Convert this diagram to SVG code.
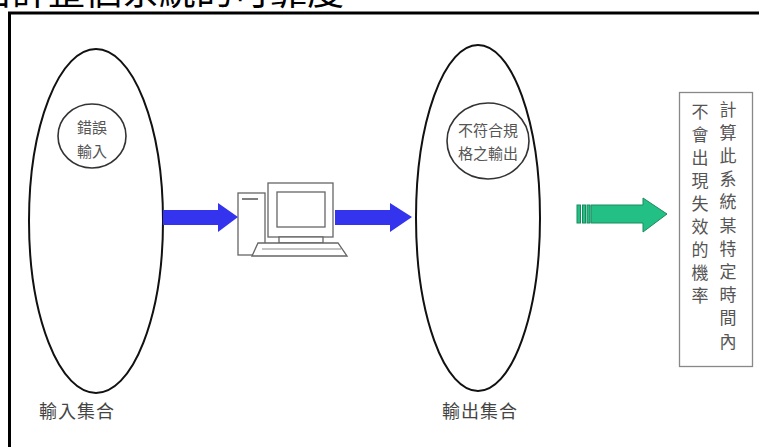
<svg xmlns="http://www.w3.org/2000/svg" width="759" height="447" viewBox="0 0 759 447">
  <style>
    .title { font-family: "Noto Sans CJK TC", "Noto Sans CJK SC", sans-serif; font-size: 37px; fill: #000; }
    .set { fill: none; stroke: #111; stroke-width: 2; }
    .sub { fill: none; stroke: #333; stroke-width: 1.6; }
    .lbl { font-family: "Noto Sans CJK TC", "Noto Sans CJK SC", sans-serif; fill: #555; text-anchor: middle; }
    .small { font-size: 15px; }
    .cap { font-size: 18px; letter-spacing: 1px; fill: #444; }
    .vt { font-family: "Noto Sans CJK TC", "Noto Sans CJK SC", sans-serif; font-size: 17px; fill: #555; text-anchor: middle; dominant-baseline: central; }
    .pc { fill: #fff; stroke: #666; stroke-width: 1.3; }
    .blue { fill: #3434ee; }
    .green { fill: #22c084; stroke: #1a8a5e; stroke-width: 1; }
  </style>

  <rect width="759" height="447" fill="#fff"/>

  <!-- heading line, clipped by the top edge -->
  <text class="title" x="-26" y="5">估計整個系統的可靠度。</text>

  <!-- frame -->
  <g id="frame" fill="none" stroke="#000" stroke-width="3">
    <path d="M9.5 447 V13 H759"/>
  </g>

  <!-- input set -->
  <g id="input-set">
    <ellipse class="set" cx="96" cy="221" rx="67" ry="172"/>
    <ellipse class="sub" cx="92" cy="136" rx="34" ry="32"/>
    <text class="lbl small" x="92" y="133">錯誤</text>
    <text class="lbl small" x="92" y="157">輸入</text>
    <text class="lbl cap" x="77" y="418">輸入集合</text>
  </g>

  <!-- output set -->
  <g id="output-set">
    <ellipse class="set" cx="478" cy="218" rx="62" ry="173"/>
    <ellipse class="sub" cx="488" cy="141" rx="41" ry="38"/>
    <text class="lbl small" x="488" y="136">不符合規</text>
    <text class="lbl small" x="488" y="159">格之輸出</text>
    <text class="lbl cap" x="480" y="418">輸出集合</text>
  </g>

  <!-- computer -->
  <g id="computer">
    <rect class="pc" x="238" y="193" width="27" height="62"/>
    <line x1="242" y1="199" x2="258" y2="199" stroke="#555" stroke-width="1.5"/>
    <rect class="pc" x="268" y="183" width="65" height="54"/>
    <rect class="pc" x="277" y="192" width="48" height="35"/>
    <rect class="pc" x="279" y="237" width="44" height="6"/>
    <path class="pc" d="M258 243 H338 L347 256 H252 Z"/>
    <line x1="262" y1="249" x2="341" y2="249" stroke="#888" stroke-width="1"/>
  </g>

  <!-- result box -->
  <g id="result">
    <rect x="679.5" y="92.5" width="73" height="274" fill="#fff" stroke="#888" stroke-width="1.3"/>
    <g class="vt">
      <text x="728" y="108">計</text>
      <text x="728" y="131.2">算</text>
      <text x="728" y="154.4">此</text>
      <text x="728" y="177.6">系</text>
      <text x="728" y="200.8">統</text>
      <text x="728" y="224">某</text>
      <text x="728" y="247.2">特</text>
      <text x="728" y="270.4">定</text>
      <text x="728" y="293.6">時</text>
      <text x="728" y="316.8">間</text>
      <text x="728" y="340">內</text>
      <text x="700" y="110">不</text>
      <text x="700" y="133">會</text>
      <text x="700" y="156">出</text>
      <text x="700" y="179">現</text>
      <text x="700" y="202">失</text>
      <text x="700" y="225">效</text>
      <text x="700" y="248">的</text>
      <text x="700" y="271">機</text>
      <text x="700" y="294">率</text>
    </g>
  </g>

  <!-- connectors -->
  <g id="connectors">
    <path class="blue" d="M163 210 H218 V203 L238 217 L218 232 V225 H163 Z"/>
    <path class="blue" d="M335 210 H390 V203 L412 217 L390 232 V225 H335 Z"/>
    <path class="green" d="M591 205 H643 V198 L667 214 L643 232 V223 H591 Z"/>
    <rect class="green" x="577" y="205" width="3.5" height="18"/>
    <rect class="green" x="582.5" y="205" width="3" height="18"/>
    <rect class="green" x="587" y="205" width="3" height="18"/>
  </g>
</svg>
